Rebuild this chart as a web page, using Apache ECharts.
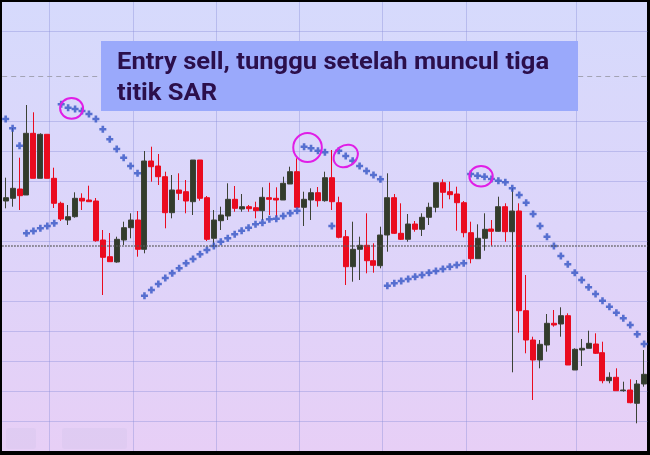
<!DOCTYPE html>
<html><head><meta charset="utf-8">
<script src="https://cdn.jsdelivr.net/npm/echarts@6/dist/echarts.min.js"></script>
<style>html,body{margin:0;padding:0;background:#000;overflow:hidden}#c{width:650px;height:455px}</style>
</head><body><div id="c"></div>
<script>
// ---- data ----
const categories = [1,2,3,4,5,6,7,8,9,10,11,12,13,14,15,16,17,18,19,20,21,22,23,24,25,26,27,28,29,30,31,32,33,34,35,36,37,38,39,40,41,42,43,44,45,46,47,48,49,50,51,52,53,54,55,56,57,58,59,60,61,62,63,64,65,66,67,68,69,70,71,72,73,74,75,76,77,78,79,80,81,82,83,84,85,86,87,88,89,90,91,92,93].map(String);
const opens = [127.07,127.34,128.27,127.67,133.84,129.34,133.74,129.34,126.84,125.17,125.50,127.34,127.17,127.07,123.17,121.50,120.97,123.17,124.40,125.17,
122.24,131.07,130.57,129.50,125.90,128.17,128.00,127.00,131.17,127.40,123.34,125.10,125.57,127.24,126.27,126.50,126.40,126.10,127.40,127.34,
127.17,128.77,130.00,126.44,127.17,127.90,127.10,129.40,126.90,123.50,120.50,122.24,122.64,121.10,120.60,123.67,127.40,123.84,123.24,124.77,
124.24,125.44,126.44,128.90,128.00,127.77,126.90,123.90,121.30,123.34,124.27,124.04,126.50,124.00,126.07,116.10,113.17,111.17,112.67,114.84,
114.77,115.60,110.17,112.17,112.34,112.77,111.90,109.10,109.44,108.10,108.17,106.84,108.77];
const closes = [127.40,128.34,127.60,133.84,129.34,133.74,129.34,126.84,125.27,125.50,127.34,127.07,127.00,123.10,121.44,121.00,123.24,124.40,125.17,122.24,
131.07,130.50,129.50,125.90,128.17,127.84,127.07,131.17,127.34,123.24,125.17,125.67,127.24,126.34,126.50,126.30,126.10,127.44,127.24,127.17,
128.84,130.00,126.44,127.24,127.90,127.10,129.40,127.00,123.44,120.50,122.24,122.64,121.10,120.64,123.67,127.40,123.84,123.24,124.77,124.24,
125.44,126.44,128.90,127.94,127.70,126.90,123.90,121.30,123.34,124.24,124.04,126.50,124.00,126.07,116.10,113.17,111.17,112.74,114.84,114.67,
115.60,110.67,112.24,112.34,112.84,111.84,109.10,109.44,108.10,108.17,106.90,108.77,109.74];
const lows = [126.34,126.50,126.17,127.67,129.34,129.34,129.34,126.37,125.07,124.67,125.40,126.17,127.00,123.00,117.67,121.00,120.90,122.67,123.34,121.50,
121.84,129.00,128.67,124.34,125.34,127.17,125.84,125.67,127.10,123.07,122.50,124.17,125.17,126.00,126.00,126.00,125.34,125.17,125.67,125.44,
127.17,128.77,126.44,124.57,125.17,126.50,127.00,126.17,123.34,118.67,119.00,119.17,119.84,119.90,120.34,122.00,123.77,123.17,123.00,124.00,
123.57,124.67,125.94,126.34,127.24,124.10,123.44,120.84,121.30,122.10,122.60,124.00,123.00,109.94,113.90,111.84,107.17,110.34,112.00,114.50,
113.50,110.67,110.17,110.57,112.34,111.77,108.84,108.84,108.10,108.00,106.84,104.84,108.50];
const highs = [129.40,134.37,131.40,136.67,135.94,133.84,133.74,130.40,127.00,126.67,127.94,127.84,128.60,127.37,124.17,123.87,123.50,125.00,125.84,126.07,
132.07,132.50,131.77,130.00,129.67,129.84,129.17,131.17,131.17,127.57,126.17,126.50,128.84,128.57,127.77,126.67,127.00,128.44,128.90,128.44,
129.50,130.50,131.34,128.00,128.34,128.47,130.00,132.17,127.50,124.17,125.00,123.50,125.84,122.84,124.50,129.84,127.77,126.84,125.77,125.07,
125.84,126.90,128.90,129.24,129.00,128.50,127.07,125.00,124.74,125.84,125.17,127.50,126.84,128.34,126.84,119.67,113.50,113.17,115.77,116.17,
116.44,115.84,112.34,113.27,114.10,113.84,113.00,109.94,110.34,109.00,109.24,109.17,112.17];
const sar = [135.27,134.34,132.60,123.84,124.07,124.34,124.57,124.84,136.74,136.40,136.27,136.07,135.77,135.27,134.24,133.24,132.27,131.40,130.57,129.84,
117.60,118.17,118.77,119.37,119.84,120.34,120.84,121.27,121.74,122.17,122.57,123.00,123.34,123.74,124.10,124.40,124.74,124.90,125.24,125.30,
125.57,125.84,126.10,132.50,132.34,132.10,131.94,124.57,132.10,131.57,131.10,130.57,130.07,129.67,129.24,118.60,118.84,119.07,119.27,119.50,
119.67,119.90,120.07,120.27,120.50,120.67,120.84,129.77,129.60,129.50,129.27,129.10,128.94,128.34,127.67,126.90,125.77,124.57,123.50,122.57,
121.57,120.74,119.90,119.17,118.44,117.77,117.10,116.50,115.90,115.34,114.67,113.74,112.77];
const dashedLevel = 139.57;
const dottedLevel = 122.57;
const calloutLines = ['Entry sell, tunggu setelah muncul tiga', 'titik SAR'];
const circledSarDots = [[9, 10], [43, 44], [49, 49], [68, 69]];

// ---- chart ----
const candleData = categories.map((c, i) => [opens[i], closes[i], lows[i], highs[i]]);
const chart = echarts.init(document.getElementById('c'), null, {renderer: 'canvas'});
const gridLineColors = [];
for (let k = 0; k <= 15; k++) {
  gridLineColors.push((k === 0 || k === 12 || k === 13 || k === 15) ? 'rgba(0,0,0,0)' : 'rgba(135,140,215,0.38)');
}
const vLinesX = [49, 133, 216, 299, 382, 466, 576];
const baseGraphic = [
  {id: 'bg', type: 'rect', z: -100, silent: true, shape: {x: 2, y: 2, width: 645, height: 449},
   style: {fill: new echarts.graphic.LinearGradient(0, 0, 0, 1, [{offset: 0, color: '#d6dafc'}, {offset: 0.5, color: '#ddd5fa'}, {offset: 1, color: '#e7cff6'}])}},
  {id: 'wm1', type: 'rect', z: -90, silent: true, shape: {x: 6, y: 428, width: 30, height: 21, r: 3}, style: {fill: 'rgba(205,190,230,0.25)'}},
  {id: 'wm2', type: 'rect', z: -90, silent: true, shape: {x: 62, y: 428, width: 65, height: 21, r: 3}, style: {fill: 'rgba(205,190,230,0.25)'}}
].concat(vLinesX.map((x, i) => ({id: 'v' + i, type: 'line', z: -50, silent: true,
  shape: {x1: x + 0.5, y1: 2, x2: x + 0.5, y2: 451}, style: {stroke: 'rgba(135,140,215,0.38)', lineWidth: 1}})))
.concat([
  {id: 'box', type: 'rect', z: 60, silent: true, shape: {x: 101, y: 41, width: 477, height: 70}, style: {fill: '#9aa9fb'}},
  {id: 't1', type: 'text', z: 61, silent: true, x: 117, y: 50.5, scaleX: 1.065, style: {text: calloutLines[0], font: 'bold 24px Roboto', fill: '#2b0f4b', verticalAlign: 'top'}},
  {id: 't2', type: 'text', z: 61, silent: true, x: 117, y: 81.5, scaleX: 1.065, style: {text: calloutLines[1], font: 'bold 24px Roboto', fill: '#2b0f4b', verticalAlign: 'top'}}
]);

chart.setOption({
  animation: false,
  backgroundColor: 'transparent',
  grid: {left: 2.2, right: 2.4, top: 1.7, bottom: 3.3, containLabel: false},
  xAxis: {type: 'category', data: categories, boundaryGap: true,
    axisLine: {show: false}, axisTick: {show: false}, axisLabel: {show: false}, splitLine: {show: false}},
  yAxis: {type: 'value', min: 102, max: 147, interval: 3, scale: false,
    axisLine: {show: false}, axisTick: {show: false}, axisLabel: {show: false},
    splitLine: {show: true, lineStyle: {color: gridLineColors, width: 1}}},
  series: [
    {type: 'candlestick', data: candleData, barWidth: 5.5, z: 2,
     itemStyle: {color: '#333c2c', color0: '#ea0b1f', borderColor: '#3c4236', borderColor0: '#ea0b1f', borderWidth: 1},
     markLine: {silent: true, symbol: 'none', animation: false, label: {show: false},
       data: [
         {yAxis: dashedLevel, lineStyle: {color: '#a3a3b4', width: 1, type: [5, 4]}},
         {yAxis: dottedLevel, lineStyle: {color: '#5a5a5a', width: 1.5, type: [1.5, 1.5]}}
       ]}},
    {type: 'scatter', data: sar, z: 3,
     symbol: 'path://M2.2,0H4.8V2.2H7V4.8H4.8V7H2.2V4.8H0V2.2H2.2Z', symbolSize: 7,
     itemStyle: {color: '#3555c6'}}
  ],
  graphic: baseGraphic
});

// callout ellipses positioned from the SAR dots they circle
const ellSizes = [[11.5, 10.3, 0], [14.3, 14.5, 0], [12.8, 10.5, 0.6], [11.7, 10.3, 0]];
const ellipses = circledSarDots.map((g, i) => {
  let sx = 0, sy = 0, n = 0;
  for (let k = g[0]; k <= g[1]; k++) {
    const p = chart.convertToPixel({seriesIndex: 1}, [k, sar[k]]);
    sx += p[0]; sy += p[1]; n++;
  }
  const cx = sx / n, cy = sy / n;
  return {id: 'e' + i, type: 'ellipse', z: 40, silent: true, x: cx, y: cy, rotation: ellSizes[i][2],
    shape: {cx: 0, cy: 0, rx: ellSizes[i][0], ry: ellSizes[i][1]},
    style: {fill: 'none', stroke: '#e01ee6', lineWidth: 2}};
});
chart.setOption({graphic: baseGraphic.concat(ellipses)});
</script></body></html>
